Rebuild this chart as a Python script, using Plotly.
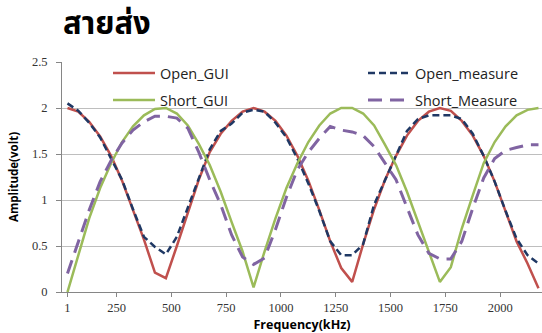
import plotly.graph_objects as go

freq = [1] + [50 * i for i in range(1, 44)]  # kHz: 1, 50, 100, ..., 2150

open_gui = [2.00, 1.96, 1.85, 1.69, 1.48, 1.21, 0.89, 0.57, 0.21, 0.15,
            0.50, 0.87, 1.22, 1.52, 1.72, 1.86, 1.96, 2.00, 1.96, 1.86,
            1.70, 1.48, 1.21, 0.89, 0.55, 0.26, 0.11, 0.52, 0.90, 1.22,
            1.48, 1.70, 1.86, 1.96, 2.00, 1.97, 1.86, 1.70, 1.48, 1.20,
            0.88, 0.55, 0.31, 0.04]
open_measure = [2.05, 1.97, 1.84, 1.68, 1.45, 1.22, 0.90, 0.60, 0.49, 0.41,
                0.60, 0.92, 1.25, 1.55, 1.75, 1.83, 1.95, 1.98, 1.96, 1.84,
                1.68, 1.45, 1.18, 0.88, 0.55, 0.40, 0.40, 0.52, 0.95, 1.22,
                1.48, 1.75, 1.88, 1.92, 1.92, 1.92, 1.88, 1.72, 1.48, 1.20,
                0.88, 0.58, 0.40, 0.31]
short_gui = [0.00, 0.40, 0.80, 1.13, 1.40, 1.63, 1.80, 1.92, 1.99, 2.00,
             1.94, 1.81, 1.61, 1.38, 1.09, 0.76, 0.44, 0.05, 0.44, 0.80,
             1.13, 1.40, 1.63, 1.81, 1.94, 2.00, 2.00, 1.94, 1.81, 1.60,
             1.38, 1.09, 0.76, 0.44, 0.11, 0.27, 0.69, 1.05, 1.40, 1.63,
             1.80, 1.92, 1.98, 2.00]
short_measure = [0.20, 0.53, 0.89, 1.20, 1.43, 1.62, 1.76, 1.85, 1.91, 1.91,
                 1.89, 1.78, 1.52, 1.22, 0.95, 0.62, 0.38, 0.30, 0.37, 0.68,
                 1.03, 1.33, 1.52, 1.67, 1.80, 1.76, 1.74, 1.70, 1.58, 1.40,
                 1.22, 0.92, 0.62, 0.42, 0.36, 0.36, 0.55, 0.91, 1.24, 1.45,
                 1.54, 1.57, 1.60, 1.60]

tick_labels = ["1", "250", "500", "750", "1000", "1250", "1500", "1750", "2000"]
tick_pos = [1, 225, 475, 725, 975, 1225, 1475, 1725, 1975]

fig = go.Figure()
fig.add_trace(go.Scatter(x=freq, y=open_gui, name="Open_GUI", mode="lines",
                         line=dict(color="#C0504D", width=2.5), legend="legend", showlegend=True))
fig.add_trace(go.Scatter(x=freq, y=open_measure, name="Open_measure", mode="lines",
                         line=dict(color="#1F3864", width=2.5, dash="7px,4px"), legend="legend2"))
fig.add_trace(go.Scatter(x=freq, y=short_gui, name="Short_GUI", mode="lines",
                         line=dict(color="#9BBB59", width=2.5), legend="legend3"))
fig.add_trace(go.Scatter(x=freq, y=short_measure, name="Short_Measure", mode="lines",
                         line=dict(color="#8064A2", width=3, dash="14px,8px"), legend="legend4"))

def leg(xpx, ypx):
    return dict(orientation="h", xanchor="left", yanchor="middle",
                xref="paper", yref="paper",
                x=(xpx - 62) / 480, y=(292 - ypx) / 230,
                itemwidth=42,
                bgcolor="rgba(0,0,0,0)",
                font=dict(family="Open Sans, sans-serif", size=14.5, color="#222"))

fig.update_layout(
    width=542, height=333,
    showlegend=True,
    margin=dict(l=62, r=0, t=62, b=41),
    paper_bgcolor="white", plot_bgcolor="white",
    title=dict(text="<b>สายส่ง</b>", x=63 / 542, xanchor="left", xref="container",
               y=1 - 23 / 333, yanchor="middle", yref="container",
               font=dict(family="Noto Sans Thai, Tahoma, DejaVu Sans, sans-serif", size=31, color="black")),
    legend=leg(108, 73),
    legend2=leg(363, 73),
    legend3=leg(108, 100),
    legend4=leg(363, 100),
    xaxis=dict(range=[-24, 2166], tickmode="array", tickvals=tick_pos, ticktext=tick_labels,
               showgrid=False, zeroline=False, showline=True, linecolor="#868686", linewidth=1,
               ticks="outside", ticklen=4, tickcolor="#868686",
               tickfont=dict(family="Liberation Serif, serif", size=12.5, color="#333"),
               title=dict(text="<b>Frequency(kHz)</b>", standoff=8,
                          font=dict(family="Open Sans, sans-serif", size=12.5, color="black"))),
    yaxis=dict(range=[0, 2.5], tickvals=[0, 0.5, 1, 1.5, 2, 2.5],
               ticktext=["0", "0.5", "1", "1.5", "2", "2.5"],
               showgrid=True, gridcolor="#BEBEBE", gridwidth=1, zeroline=False,
               showline=True, linecolor="#868686", linewidth=1,
               ticks="outside", ticklen=5, tickcolor="#868686", ticklabelstandoff=6,
               tickfont=dict(family="Liberation Serif, serif", size=12.5, color="#333"),
               title=dict(text="<b>Amplitude(volt)</b>", standoff=10,
                          font=dict(family="Open Sans, sans-serif", size=11.5, color="black"))),
)

fig.write_html("out.html", config={"displayModeBar": False},
               post_script="document.body.style.margin='0px';")
